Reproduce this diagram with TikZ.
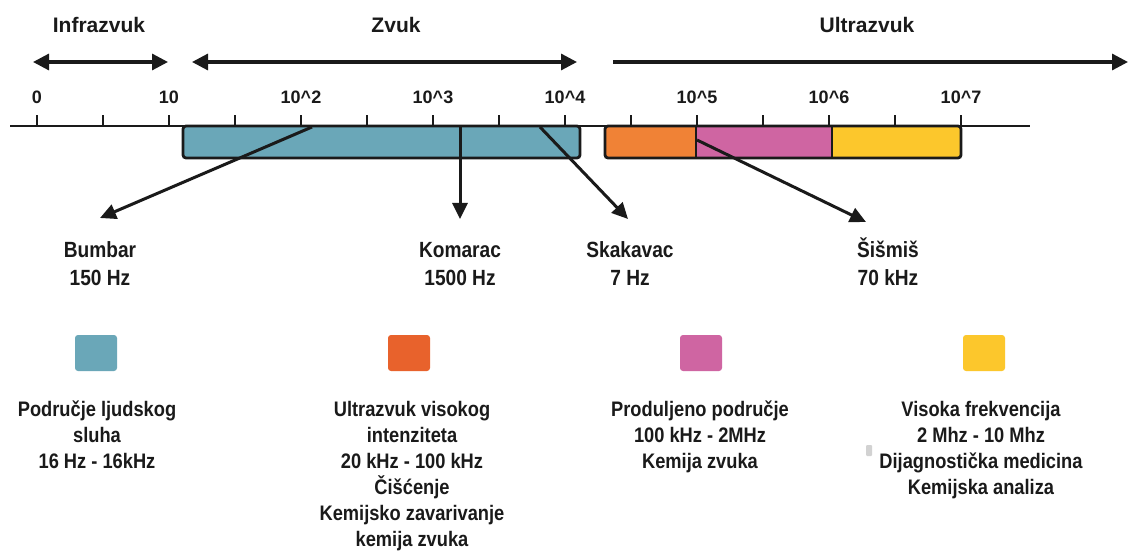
\documentclass[tikz,border=0pt]{standalone}
\usepackage{fontspec}
\setmainfont{Liberation Sans}
\newfontfamily\condf{Liberation Sans}[FakeStretch=0.87]
\usetikzlibrary{arrows.meta}
\definecolor{cteal}{HTML}{6AA7B8}
\definecolor{corange}{HTML}{F08236}
\definecolor{corangeL}{HTML}{E8622C}
\definecolor{cpink}{HTML}{CF65A2}
\definecolor{cyellow}{HTML}{FCC72C}
\definecolor{cink}{HTML}{1A1A1A}
\tikzset{
  toplabel/.style={font=\bfseries\fontsize{21}{24}\selectfont, text=cink, anchor=base, inner sep=0pt},
  ticklabel/.style={font=\bfseries\fontsize{18}{20}\selectfont, text=cink, anchor=base, inner sep=0pt},
  animal/.style={font=\condf\bfseries\fontsize{22}{28}\selectfont, text=cink, anchor=base, align=center, inner sep=0pt},
  legendtext/.style={font=\condf\bfseries\fontsize{21}{26}\selectfont, text=cink, anchor=base, align=center, inner sep=0pt},
  rangearrow/.style={line width=3.2pt, draw=cink},
  rhead/.tip={Triangle[length=16pt,width=16pt]},
  pointer/.style={line width=3pt, draw=cink, -{Triangle[length=16pt,width=15pt]}},
  tickmark/.style={line width=2.4pt, draw=cink},
  barbox/.style={line width=2.8pt, draw=cink},
  swatch/.style={rounded corners=3pt, draw=none},
}
\begin{document}
\begin{tikzpicture}[x=1pt,y=-1pt]
\useasboundingbox[fill=white] (0,0) rectangle (1129,553);

% range labels
\node[toplabel] (infra) at (99,33) {Infrazvuk};
\node[toplabel] (zvuk) at (396,33) {Zvuk};
\node[toplabel] (ultra) at (867,33) {Ultrazvuk};

% range arrows
\coordinate (ia) at (33,62);  \coordinate (ib) at (168,62);
\coordinate (za) at (192,62); \coordinate (zb) at (577,62);
\coordinate (ua) at (613,62); \coordinate (ub) at (1128,62);
\draw[rangearrow, rhead-rhead] (ia) -- (ib);
\draw[rangearrow, rhead-rhead] (za) -- (zb);
\draw[rangearrow, -rhead] (ua) -- (ub);

% bars
\fill[cteal, rounded corners=3pt] (183,126) rectangle (580,158);
\fill[corange] (605,126) rectangle (696,158);
\fill[cpink] (696,126) rectangle (832,158);
\fill[cyellow] (832,126) rectangle (961,158);
\draw[barbox, rounded corners=3pt] (183,126) rectangle (580,158);
\draw[barbox, rounded corners=3pt] (605,126) rectangle (961,158);
\draw[barbox] (696,126) -- (696,158);
\draw[barbox] (832,126) -- (832,158);

% axis
\coordinate (axl) at (10,126);
\coordinate (axr) at (1030,126);
\draw[line width=2.6pt, draw=cink] (axl) -- (axr);
\foreach \k in {0,...,14} {
  \coordinate (t\k) at ({37+66*\k},126);
  \draw[tickmark] (t\k) -- ++(0,-11);
}
\node[ticklabel] (l0) at (37,104) {0};
\node[ticklabel] (l1) at (169,104) {10};
\node[ticklabel] (l2) at (301,104) {10\char`\^2};
\node[ticklabel] (l3) at (433,104) {10\char`\^3};
\node[ticklabel] (l4) at (565,104) {10\char`\^4};
\node[ticklabel] (l5) at (697,104) {10\char`\^5};
\node[ticklabel] (l6) at (829,104) {10\char`\^6};
\node[ticklabel] (l7) at (961,104) {10\char`\^7};

% animals (anchor base = last line baseline)
\node[animal] (bumbar) at (100,285) {Bumbar\\150 Hz};
\node[animal] (komarac) at (460,285) {Komarac\\1500 Hz};
\node[animal] (skakavac) at (630,285) {Skakavac\\7 Hz};
\node[animal] (sismis) at (888,285) {Šišmiš\\70 kHz};

\coordinate (sb) at (312,127); \coordinate (eb) at (100,218);
\coordinate (sk) at (460,127); \coordinate (ek) at (460,219);
\coordinate (ss) at (540,127); \coordinate (es) at (628,219);
\coordinate (sm) at (697,140); \coordinate (em) at (866,222);
\draw[pointer] (sb) -- (eb);
\draw[pointer] (sk) -- (ek);
\draw[pointer] (ss) -- (es);
\draw[pointer] (sm) -- (em);

% legend
\fill[swatch, cteal] (75,335) rectangle (117,371);
\fill[swatch, corangeL] (388,335) rectangle (430,371);
\fill[swatch, cpink] (680,335) rectangle (722,371);
\fill[swatch, cyellow] (963,335) rectangle (1005,371);

\node[legendtext] (lg1) at (97,468) {Područje ljudskog\\sluha\\16 Hz - 16kHz};
\node[legendtext] (lg2) at (412,546) {Ultrazvuk visokog\\intenziteta\\20 kHz - 100 kHz\\Čišćenje\\Kemijsko zavarivanje\\kemija zvuka};
\node[legendtext] (lg3) at (700,468) {Produljeno područje\\100 kHz - 2MHz\\Kemija zvuka};
\node[legendtext] (lg4) at (981,494) {Visoka frekvencija\\2 Mhz - 10 Mhz\\Dijagnostička medicina\\Kemijska analiza};

% small grey speck
\fill[gray!35, rounded corners=1pt] (866,445) rectangle (872,456);
\end{tikzpicture}
\end{document}
